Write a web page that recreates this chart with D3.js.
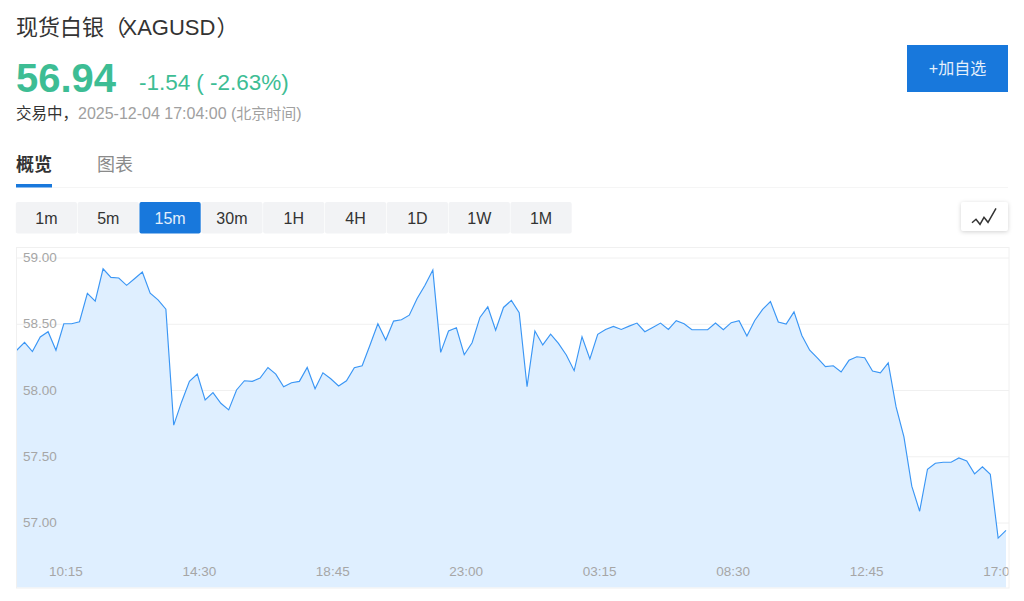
<!DOCTYPE html>
<html>
<head>
<meta charset="utf-8">
<script src="https://cdn.jsdelivr.net/npm/d3@7"></script>
<style>
  html, body { margin: 0; padding: 0; background: #fff; overflow: hidden; }
  text { font-family: "Liberation Sans", "Noto Sans CJK SC", sans-serif; }
</style>
</head>
<body>
<div id="chart"></div>
<script>
// price per 15m bar
const prices = [
  58.30, 58.36, 58.29, 58.40, 58.44, 58.30, 58.50, 58.50, 58.515, 58.73,
  58.67, 58.915, 58.85, 58.845, 58.79, 58.84, 58.89, 58.73, 58.68, 58.61,
  57.735, 57.91, 58.065, 58.12, 57.925, 57.98, 57.90, 57.85, 58.00, 58.07,
  58.065, 58.09, 58.17, 58.12, 58.025, 58.055, 58.065, 58.17, 58.01, 58.13,
  58.085, 58.03, 58.07, 58.168, 58.183, 58.34, 58.50, 58.377, 58.52, 58.53,
  58.565, 58.69, 58.79, 58.905, 58.284, 58.445, 58.47, 58.266, 58.357, 58.548,
  58.628, 58.452, 58.623, 58.676, 58.583, 58.025, 58.445, 58.34, 58.422, 58.352,
  58.264, 58.146, 58.402, 58.234, 58.42, 58.457, 58.48, 58.457, 58.482, 58.505,
  58.44, 58.472, 58.505, 58.457, 58.523, 58.50, 58.455, 58.455, 58.455, 58.505,
  58.455, 58.508, 58.523, 58.407, 58.525, 58.608, 58.668, 58.513, 58.497, 58.59,
  58.412, 58.30, 58.241, 58.176, 58.183, 58.136, 58.224, 58.251, 58.244, 58.143,
  58.13, 58.204, 57.872, 57.646, 57.274, 57.085, 57.402, 57.447, 57.455, 57.455,
  57.487, 57.465, 57.367, 57.42, 57.364, 56.882, 56.94
];
const priceTicks = [57, 57.5, 58, 58.5, 59];
const timeLabels = ["10:15", "14:30", "18:45", "23:00", "03:15", "08:30", "12:45", "17:00"];
const timeIndex = [6, 23, 40, 57, 74, 91, 108, 125];
const periods = ["1m", "5m", "15m", "30m", "1H", "4H", "1D", "1W", "1M"];
const activePeriod = "15m";
const iconPoints = [[0, 7.7], [4, 4.3], [8, 9.3], [12, 2.3], [16, 7.3], [24, -6.7]];

const svgWidth = 1024;
const svgHeight = 601;

const svg = d3.select("#chart")
  .append("svg")
  .attr("width", svgWidth)
  .attr("height", svgHeight)
  .style("display", "block");

// header
function label(x, y, str, size, color, weight) {
  return svg.append("text")
    .attr("x", x)
    .attr("y", y)
    .attr("font-size", size)
    .attr("fill", color)
    .attr("font-weight", weight || "normal")
    .text(str);
}

const title = label(16, 35, "现货白银（", 22, "#333");
title.append("tspan").attr("dx", -3.5).text("XAGUSD");
title.append("tspan").attr("dx", 1).text("）");
label(16, 92, "56.94", 40, "#3dbd94", "bold");
const change = label(139, 90, "-1.54", 22.5, "#3dbd94");
change.append("tspan").attr("dx", 6).text("( -2.63%)");
label(16, 119, "交易中，", 15.5, "#333");
const stamp = label(78, 119, "2025-12-04 17:04:00 (", 16, "#a0a0a0");
stamp.append("tspan").attr("font-size", 15).text("北京时间");
stamp.append("tspan").text(")");

// add button
svg.append("rect")
  .attr("x", 907).attr("y", 45)
  .attr("width", 101).attr("height", 47)
  .attr("fill", "#1878dc");
label(957.5, 74, "+加自选", 16, "#e4effb").attr("text-anchor", "middle");

// tabs
label(16, 171, "概览", 18, "#333", "bold");
label(97, 171, "图表", 18, "#8a8a8a");
svg.append("rect").attr("x", 16).attr("y", 184).attr("width", 36).attr("height", 3.5).attr("fill", "#1878dc");
svg.append("rect").attr("x", 52).attr("y", 187).attr("width", 956).attr("height", 1).attr("fill", "#f5f5f5");

// period buttons
const periodScale = d3.scaleBand()
  .domain(periods)
  .range([15.5, 572]);

const periodGroup = svg.selectAll("g.period")
  .data(periods)
  .enter()
  .append("g")
  .attr("class", "period");

periodGroup.append("rect")
  .attr("x", d => periodScale(d) + 0.3)
  .attr("y", 202)
  .attr("width", periodScale.bandwidth() - 0.6)
  .attr("height", 31.5)
  .attr("rx", 2)
  .attr("fill", d => d === activePeriod ? "#1878dc" : "#f2f3f5");

periodGroup.append("text")
  .attr("x", d => periodScale(d) + periodScale.bandwidth() / 2)
  .attr("y", 223.5)
  .attr("text-anchor", "middle")
  .attr("font-size", 16)
  .attr("fill", d => d === activePeriod ? "#e4effb" : "#333")
  .text(d => d);

// chart type button
const iconBox = svg.append("g");
iconBox.append("rect")
  .attr("x", 961).attr("y", 202)
  .attr("width", 47).attr("height", 29)
  .attr("rx", 2)
  .attr("fill", "#fff")
  .style("filter", "drop-shadow(0 1px 2px rgba(0,0,0,0.18))");
iconBox.append("path")
  .attr("d", d3.line()(iconPoints))
  .attr("transform", "translate(972, 215)")
  .attr("fill", "none")
  .attr("stroke", "#333")
  .attr("stroke-width", 1.5);

// chart
const plotLeft = 16;
const plotRight = 1009;
const plotTop = 247;
const plotBottom = 587.5;

const xScale = d3.scaleLinear()
  .domain([0, prices.length - 1])
  .range([16.7, 1006]);

const yScale = d3.scaleLinear()
  .domain([57, 59])
  .range([522.5, 257.5]);

svg.append("defs")
  .append("clipPath")
  .attr("id", "plotClip")
  .append("rect")
  .attr("x", plotLeft)
  .attr("y", plotTop)
  .attr("width", plotRight - plotLeft)
  .attr("height", plotBottom - plotTop + 1);

const plot = svg.append("g").attr("clip-path", "url(#plotClip)");

// frame
svg.append("rect")
  .attr("x", plotLeft + 0.5).attr("y", plotTop + 0.5)
  .attr("width", plotRight - plotLeft - 0.5).attr("height", plotBottom - plotTop)
  .attr("fill", "none")
  .attr("stroke", "#f0f0f0");

// grid lines and price labels
const yAxis = d3.axisRight(yScale)
  .tickValues(priceTicks)
  .tickFormat(d3.format(".2f"))
  .tickSize(plotRight - plotLeft);

const yAxisGroup = plot.append("g")
  .attr("transform", `translate(${plotLeft}, 0)`)
  .call(yAxis);
yAxisGroup.select(".domain").remove();
yAxisGroup.selectAll("line").attr("stroke", "#f0f0f0");
yAxisGroup.selectAll("text").remove();

const area = d3.area()
  .x((d, i) => xScale(i))
  .y0(plotBottom)
  .y1(d => yScale(d));

const line = d3.line()
  .x((d, i) => xScale(i))
  .y(d => yScale(d));

plot.append("path")
  .datum(prices)
  .attr("d", area)
  .attr("fill", "#dfefff");

plot.append("path")
  .datum(prices)
  .attr("d", line)
  .attr("fill", "none")
  .attr("stroke", "#3a96f5")
  .attr("stroke-width", 1.15);

plot.selectAll("text.price")
  .data(priceTicks)
  .enter()
  .append("text")
  .attr("class", "price")
  .attr("x", 23)
  .attr("y", d => yScale(d) + 4.5)
  .attr("font-size", 13.5)
  .attr("fill", "#a6a6a6")
  .text(d3.format(".2f"));

plot.selectAll("text.time")
  .data(timeLabels)
  .enter()
  .append("text")
  .attr("class", "time")
  .attr("x", (d, i) => xScale(timeIndex[i]) + 2)
  .attr("y", 575.5)
  .attr("text-anchor", "middle")
  .attr("font-size", 13.5)
  .attr("fill", "#a6a6a6")
  .text(d => d);
</script>
</body>
</html>
